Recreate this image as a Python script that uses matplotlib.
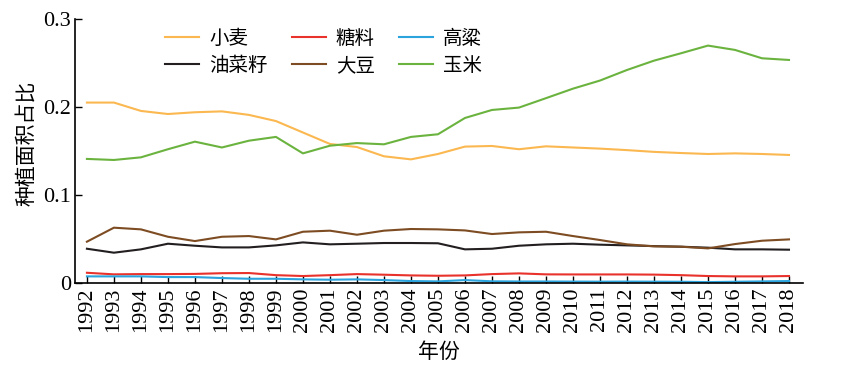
import numpy as np
import matplotlib
matplotlib.use('Agg')
from matplotlib import pyplot as plt

plt.rcParams['font.family'] = ['Liberation Serif', 'Noto Sans CJK SC']

years = list(range(1992, 2019))

wheat = [0.205, 0.205, 0.1955, 0.192, 0.194, 0.195, 0.191, 0.184, 0.171, 0.158,
         0.1545, 0.144, 0.1405, 0.1466, 0.155, 0.1557, 0.152, 0.1553, 0.154, 0.1527,
         0.151, 0.149, 0.1477, 0.1466, 0.1473, 0.1466, 0.1455]
rapeseed = [0.039, 0.0345, 0.0383, 0.0447, 0.0424, 0.0405, 0.0405, 0.0428, 0.0462, 0.044,
            0.0447, 0.0455, 0.0455, 0.0452, 0.0383, 0.039, 0.0424, 0.044, 0.0447, 0.0436,
            0.0428, 0.042, 0.0413, 0.0402, 0.0383, 0.0383, 0.0379]
sugar = [0.0117, 0.0099, 0.0102, 0.0102, 0.0104, 0.0112, 0.0114, 0.009, 0.008, 0.009,
         0.0102, 0.0095, 0.0087, 0.0083, 0.0087, 0.0102, 0.011, 0.0099, 0.0098, 0.0098,
         0.0098, 0.0096, 0.009, 0.008, 0.0076, 0.0076, 0.008]
soybean = [0.047, 0.0629, 0.061, 0.0526, 0.0477, 0.0526, 0.0534, 0.0496, 0.0583, 0.0595,
           0.0549, 0.0595, 0.0614, 0.061, 0.0598, 0.0557, 0.0576, 0.0583, 0.0534, 0.0489,
           0.044, 0.0417, 0.0413, 0.0394, 0.0443, 0.0481, 0.0496]
sorghum = [0.0076, 0.0076, 0.0076, 0.0068, 0.0068, 0.0057, 0.0049, 0.0049, 0.0042, 0.0038,
           0.0042, 0.0034, 0.0023, 0.0019, 0.0034, 0.002, 0.0018, 0.0018, 0.0017, 0.0016,
           0.0017, 0.0016, 0.0015, 0.0011, 0.0015, 0.0019, 0.0023]
corn = [0.141, 0.1398, 0.1428, 0.152, 0.1606, 0.154, 0.1617, 0.166, 0.1473, 0.156,
        0.159, 0.1576, 0.166, 0.169, 0.1875, 0.1966, 0.1993, 0.21, 0.2208, 0.23,
        0.242, 0.2526, 0.261, 0.2697, 0.2648, 0.2553, 0.2534]

# legend order fills column by column (3 columns x 2 rows)
series = [('小麦', wheat, '#FBB850'),
          ('油菜籽', rapeseed, '#231F20'),
          ('糖料', sugar, '#E8322B'),
          ('大豆', soybean, '#7D4C22'),
          ('高粱', sorghum, '#2BA3DD'),
          ('玉米', corn, '#6BB33F')]

fig = plt.figure(figsize=(8.46, 3.71), dpi=100)
ax = fig.add_axes([0.0887, 0.237, 0.8605, 0.712])

for name, vals, col in series:
    ax.plot(years, vals, color=col, lw=1.5, label=name)

ax.set_xlim(1991.56, 2018.52)
ax.set_ylim(0, 0.3)
ax.set_xticks(years)
ax.set_xticklabels([str(y) for y in years], rotation=90)
ax.set_yticks([0, 0.1, 0.2, 0.3])
ax.set_yticklabels(['0', '0.1', '0.2', '0.3'])
ax.tick_params(direction='in', length=5, width=1, labelsize=16, pad=3, color='black')
for s in ['top', 'right']:
    ax.spines[s].set_visible(False)
for s in ['left', 'bottom']:
    ax.spines[s].set_linewidth(1.2)

ax.set_xlabel('年份', fontsize=15, family=['Noto Sans CJK SC'], labelpad=7)
ax.set_ylabel('种植面积占比', fontsize=15, family=['Noto Sans CJK SC'])
ax.yaxis.set_label_coords(-0.052, 0.53)

leg = ax.legend(ncol=3, loc='upper left', bbox_to_anchor=(0.1, 1.031), frameon=False,
                handlelength=1.75, handletextpad=0.5, columnspacing=1.25, labelspacing=0.3,
                prop={'family': ['Noto Sans CJK SC'], 'size': 14})

fig.savefig('out.png', dpi=100)
